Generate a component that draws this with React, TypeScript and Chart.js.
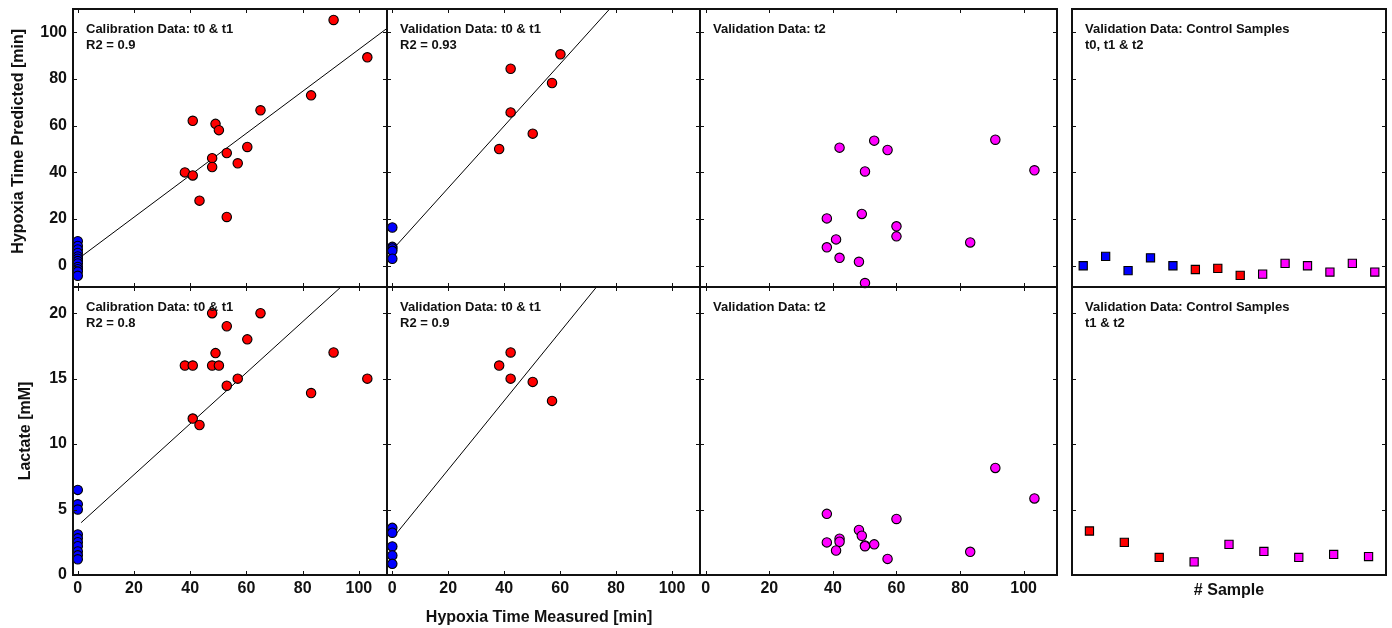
import React, { useEffect, useRef } from 'react';
import { Chart, registerables } from 'chart.js';

Chart.register(...registerables);

const FONT = "'Liberation Sans', Arial, Helvetica, sans-serif";
Chart.defaults.font.family = FONT;

const RED = '#ff0000';
const BLUE = '#0000ff';
const MAGENTA = '#ff00ff';
const INK = '#111111';

// ---------- tick values ----------
const X_TICKS = [0, 20, 40, 60, 80, 100];
const HYP_TICKS = [0, 20, 40, 60, 80, 100];
const LAC_TICKS = [0, 5, 10, 15, 20];

// ---------- calibration data t0 & t1 ----------
const calX = [38.1, 40.9, 40.9, 43.3, 47.8, 47.8, 49, 50.2, 53, 53, 56.9, 60.3, 65, 83, 91, 103];
const calHypPred = [40, 62.1, 38.7, 27.9, 46.1, 42.3, 60.8, 58.1, 48.3, 20.9, 43.9, 50.9, 66.6, 73, 105.3, 89.3];
const calLactate = [16, 16, 11.95, 11.46, 20, 16, 16.95, 16, 19, 14.46, 15, 18, 20, 13.9, 17, 15];
const calCtrlHypPred = [10.5, 8.5, 7, 5.5, 4, 3, 2, 1, -0.5, -1.5, -2.5, -4.3];
const calCtrlLactate = [6.5, 5.4, 5.0, 3.1, 2.8, 2.5, 2.2, 1.8, 1.5, 1.2];
const calHypFitX = [1.2, 110];
const calHypFitY = [3.9, 101.7];
const calLacFitX = [1.2, 93.6];
const calLacFitY = [4.0, 22];

// ---------- validation data t0 & t1 ----------
const valHypX = [38.2, 42.3, 42.3, 50.2, 57.1, 60.1];
const valHypPred = [50, 84.4, 65.7, 56.6, 78.3, 90.6];
const valLacX = [38.2, 42.3, 42.3, 50.2, 57.1];
const valLactate = [16, 17, 15, 14.75, 13.3];
const valCtrlHypPred = [16.4, 8.1, 7.4, 6.4, 3.0];
const valCtrlLactate = [3.6, 3.23, 2.18, 1.49, 0.85];
const valHypFitX = [1.0, 77.7];
const valHypFitY = [8.1, 110];
const valLacFitX = [1.0, 73];
const valLacFitY = [3.05, 22];

// ---------- validation data t2 ----------
const t2HypX = [53, 91.1, 42.1, 57.2, 50.1, 103.4, 49.1, 38.1, 60, 60, 41, 83.2, 38.1, 42.1, 48.2, 50.1];
const t2HypPred = [53.6, 54, 50.6, 49.6, 40.4, 40.9, 22.2, 20.3, 16.9, 12.6, 11.3, 10, 7.9, 3.4, 1.7, -7.4];
const t2LacX = [91.1, 103.4, 38.1, 60, 48.2, 49.1, 42.1, 42.1, 38.1, 53, 50.1, 50.1, 41, 83.2, 57.2];
const t2Lactate = [8.18, 5.85, 4.67, 4.28, 3.44, 3.0, 2.77, 2.54, 2.49, 2.34, 2.26, 2.2, 1.87, 1.77, 1.23];

// ---------- control samples ----------
const ctrlAllT0 = [0, 4.0, -2.1, 3.4, 0];
const ctrlAllT1 = [-1.6, -1.1, -4.1];
const ctrlAllT2 = [-3.6, 1.0, 0, -2.7, 1.0, -2.7];
const ctrlLacT1 = [3.36, 2.49, 1.34];
const ctrlLacT2 = [1.0, 2.34, 1.8, 1.34, 1.57, 1.41];

// ---------- helpers ----------
const pts = (xs: number[], ys: number[]) => ys.map((y, i) => ({ x: xs[i], y }));
const atZero = (ys: number[]) => ys.map((y) => ({ x: 0, y }));
const seq = (ys: number[], start: number) => ys.map((y, i) => ({ x: start + i, y }));

const circles = (data: any[], color: string) => ({
  data,
  backgroundColor: color,
  borderColor: '#000',
  borderWidth: 1.1,
  pointRadius: 4.7,
  pointStyle: 'circle',
  showLine: false,
  clip: false,
});
const squares = (data: any[], color: string) => ({
  data,
  backgroundColor: color,
  borderColor: '#000',
  borderWidth: 1.1,
  pointRadius: 5.8,
  pointStyle: 'rect',
  showLine: false,
  clip: false,
});
const fitLine = (xs: number[], ys: number[]) => ({
  data: pts(xs, ys),
  borderColor: '#000',
  borderWidth: 1,
  pointRadius: 0,
  showLine: true,
  tension: 0,
  fill: false,
});

const decoPlugin = {
  id: 'panelDeco',
  afterDatasetsDraw(chart: any, _args: any, opts: any) {
    const { ctx, chartArea: a, scales } = chart;
    const L = 4;
    ctx.save();
    ctx.strokeStyle = INK;
    ctx.lineWidth = 1;
    ctx.beginPath();
    (opts.xTicks || []).forEach((v: number) => {
      const px = Math.round(scales.x.getPixelForValue(v)) + 0.5;
      ctx.moveTo(px, a.bottom);
      ctx.lineTo(px, a.bottom - L);
      ctx.moveTo(px, a.top);
      ctx.lineTo(px, a.top + L);
    });
    (opts.yTicks || []).forEach((v: number) => {
      const py = Math.round(scales.y.getPixelForValue(v)) + 0.5;
      ctx.moveTo(a.left, py);
      ctx.lineTo(a.left + L, py);
      ctx.moveTo(a.right, py);
      ctx.lineTo(a.right - L, py);
    });
    ctx.stroke();
    ctx.lineWidth = 2;
    ctx.strokeRect(a.left, a.top, a.right - a.left, a.bottom - a.top);
    ctx.fillStyle = INK;
    ctx.font = `bold 13px ${FONT}`;
    ctx.textAlign = 'left';
    ctx.textBaseline = 'alphabetic';
    (opts.lines || []).forEach((s: string, i: number) => {
      ctx.fillText(s, a.left + 13, a.top + 23.5 + i * 16);
    });
    ctx.restore();
  },
};

type AxisSpec = {
  min: number;
  max: number;
  ticks: number[] | null;
  labels: boolean;
  title?: string;
  titlePad?: number;
};

type Spec = {
  id: string;
  l: number;
  t: number;
  r: number;
  b: number;
  padL: number;
  padB: number;
  x: AxisSpec;
  y: AxisSpec;
  lines: string[];
  datasets: any[];
};

const COLS = [
  [73, 387],
  [387, 700],
  [700, 1057],
  [1072, 1386],
];
const ROWS = [
  [9, 287],
  [287, 575],
];

const xAx = (c: number, labels: boolean, title?: string, titlePad?: number): AxisSpec => {
  if (c === 0) return { min: -1.7, max: 110, ticks: X_TICKS, labels, title, titlePad };
  if (c === 1) return { min: -1.9, max: 110, ticks: X_TICKS, labels, title, titlePad };
  return { min: -1.8, max: 110.5, ticks: X_TICKS, labels, title, titlePad };
};
const hypY = (labels: boolean, title?: string, titlePad?: number): AxisSpec => ({
  min: -9.1, max: 110, ticks: HYP_TICKS, labels, title, titlePad,
});
const lacY = (labels: boolean, title?: string, titlePad?: number): AxisSpec => ({
  min: 0, max: 22, ticks: LAC_TICKS, labels, title, titlePad,
});

const box = (c: number, r: number) => ({ l: COLS[c][0], r: COLS[c][1], t: ROWS[r][0], b: ROWS[r][1] });

const SPECS: Spec[] = [
  {
    id: 'a', ...box(0, 0), padL: 73, padB: 6,
    x: xAx(0, false),
    y: hypY(true, '   Hypoxia Time Predicted [min]', 9.4),
    lines: ['Calibration Data: t0 & t1', 'R2 = 0.9'],
    datasets: [circles(pts(calX, calHypPred), RED), circles(atZero(calCtrlHypPred), BLUE), fitLine(calHypFitX, calHypFitY)],
  },
  {
    id: 'b', ...box(1, 0), padL: 6, padB: 6,
    x: xAx(1, false),
    y: hypY(false),
    lines: ['Validation Data: t0 & t1', 'R2 = 0.93'],
    datasets: [circles(pts(valHypX, valHypPred), RED), circles(atZero(valCtrlHypPred), BLUE), fitLine(valHypFitX, valHypFitY)],
  },
  {
    id: 'c', ...box(2, 0), padL: 6, padB: 6,
    x: xAx(2, false),
    y: hypY(false),
    lines: ['Validation Data: t2'],
    datasets: [circles(pts(t2HypX, t2HypPred), MAGENTA)],
  },
  {
    id: 'd', ...box(3, 0), padL: 6, padB: 6,
    x: { min: 0.5, max: 14.5, ticks: null, labels: false },
    y: hypY(false),
    lines: ['Validation Data: Control Samples', 't0, t1 & t2'],
    datasets: [
      squares(seq(ctrlAllT0, 1), BLUE),
      squares(seq(ctrlAllT1, 6), RED),
      squares(seq(ctrlAllT2, 9), MAGENTA),
    ],
  },
  {
    id: 'e', ...box(0, 1), padL: 73, padB: 53,
    x: xAx(0, true),
    y: lacY(true, 'Lactate [mM]', 16.4),
    lines: ['Calibration Data: t0 & t1', 'R2 = 0.8'],
    datasets: [circles(pts(calX, calLactate), RED), circles(atZero(calCtrlLactate), BLUE), fitLine(calLacFitX, calLacFitY)],
  },
  {
    id: 'f', ...box(1, 1), padL: 6, padB: 53,
    x: xAx(1, true, 'Hypoxia Time Measured [min]  ', 1),
    y: lacY(false),
    lines: ['Validation Data: t0 & t1', 'R2 = 0.9'],
    datasets: [circles(pts(valLacX, valLactate), RED), circles(atZero(valCtrlLactate), BLUE), fitLine(valLacFitX, valLacFitY)],
  },
  {
    id: 'g', ...box(2, 1), padL: 6, padB: 53,
    x: xAx(2, true),
    y: lacY(false),
    lines: ['Validation Data: t2'],
    datasets: [circles(pts(t2LacX, t2Lactate), MAGENTA)],
  },
  {
    id: 'h', ...box(3, 1), padL: 6, padB: 53,
    x: { min: 0.5, max: 9.5, ticks: null, labels: false, title: '# Sample', titlePad: 28.3 },
    y: lacY(false),
    lines: ['Validation Data: Control Samples', 't1 & t2'],
    datasets: [squares(seq(ctrlLacT1, 1), RED), squares(seq(ctrlLacT2, 4), MAGENTA)],
  },
];

const PAD_TOP = 2;
const PAD_RIGHT = 3;

const zeroPad = (s: any) => {
  s.paddingTop = 0;
  s.paddingBottom = 0;
  s.paddingLeft = 0;
  s.paddingRight = 0;
};

function Panel({ spec }: { spec: Spec }) {
  const ref = useRef<HTMLCanvasElement | null>(null);
  const width = spec.r - spec.l + spec.padL + PAD_RIGHT;
  const height = spec.b - spec.t + spec.padB + PAD_TOP;

  useEffect(() => {
    if (!ref.current) return;
    const tickFont = { family: FONT, size: 16, weight: 'bold' as const };
    const titleFont = { family: FONT, size: 16, weight: 'bold' as const };
    const chart = new Chart(ref.current, {
      type: 'scatter',
      data: { datasets: spec.datasets as any },
      options: {
        responsive: false,
        animation: false,
        devicePixelRatio: 1,
        events: [],
        layout: { padding: { left: 0, top: PAD_TOP, right: PAD_RIGHT, bottom: 0 }, autoPadding: false },
        plugins: {
          legend: { display: false },
          tooltip: { enabled: false },
          panelDeco: { xTicks: spec.x.ticks, yTicks: spec.y.ticks, lines: spec.lines },
        } as any,
        scales: {
          x: {
            type: 'linear',
            position: 'bottom',
            min: spec.x.min,
            max: spec.x.max,
            grid: { display: false, drawTicks: false, tickLength: 0 },
            border: { display: false },
            ticks: {
              display: spec.x.labels,
              font: tickFont,
              color: INK,
              padding: 4,
              maxRotation: 0,
              autoSkip: false,
              callback: (v: any) => String(v),
            },
            afterBuildTicks: (s: any) => {
              if (spec.x.ticks) s.ticks = spec.x.ticks.map((v) => ({ value: v }));
            },
            afterFit: (s: any) => {
              s.height = spec.padB;
              zeroPad(s);
            },
            title: {
              display: !!spec.x.title,
              text: spec.x.title || '',
              font: titleFont,
              color: INK,
              padding: { top: 0, bottom: spec.x.titlePad || 0 },
            },
          },
          y: {
            type: 'linear',
            position: 'left',
            min: spec.y.min,
            max: spec.y.max,
            grid: { display: false, drawTicks: false, tickLength: 0 },
            border: { display: false },
            ticks: {
              display: spec.y.labels,
              font: tickFont,
              color: INK,
              padding: 6,
              autoSkip: false,
              callback: (v: any) => String(v),
            },
            afterBuildTicks: (s: any) => {
              if (spec.y.ticks) s.ticks = spec.y.ticks.map((v) => ({ value: v }));
            },
            afterFit: (s: any) => {
              s.width = spec.padL;
              zeroPad(s);
            },
            title: {
              display: !!spec.y.title,
              text: spec.y.title || '',
              font: titleFont,
              color: INK,
              padding: { top: spec.y.titlePad || 0, bottom: 0 },
            },
          },
        },
      } as any,
      plugins: [decoPlugin as any],
    });
    return () => chart.destroy();
  }, [spec]);

  return (
    <canvas
      ref={ref}
      width={width}
      height={height}
      style={{
        position: 'absolute',
        left: spec.l - spec.padL,
        top: spec.t - PAD_TOP,
        width,
        height,
      }}
    />
  );
}

export default function App() {
  return (
    <div
      style={{
        position: 'fixed',
        left: 0,
        top: 0,
        width: 1392,
        height: 628,
        background: '#ffffff',
        overflow: 'hidden',
      }}
    >
      {SPECS.map((s) => (
        <Panel key={s.id} spec={s} />
      ))}
    </div>
  );
}
